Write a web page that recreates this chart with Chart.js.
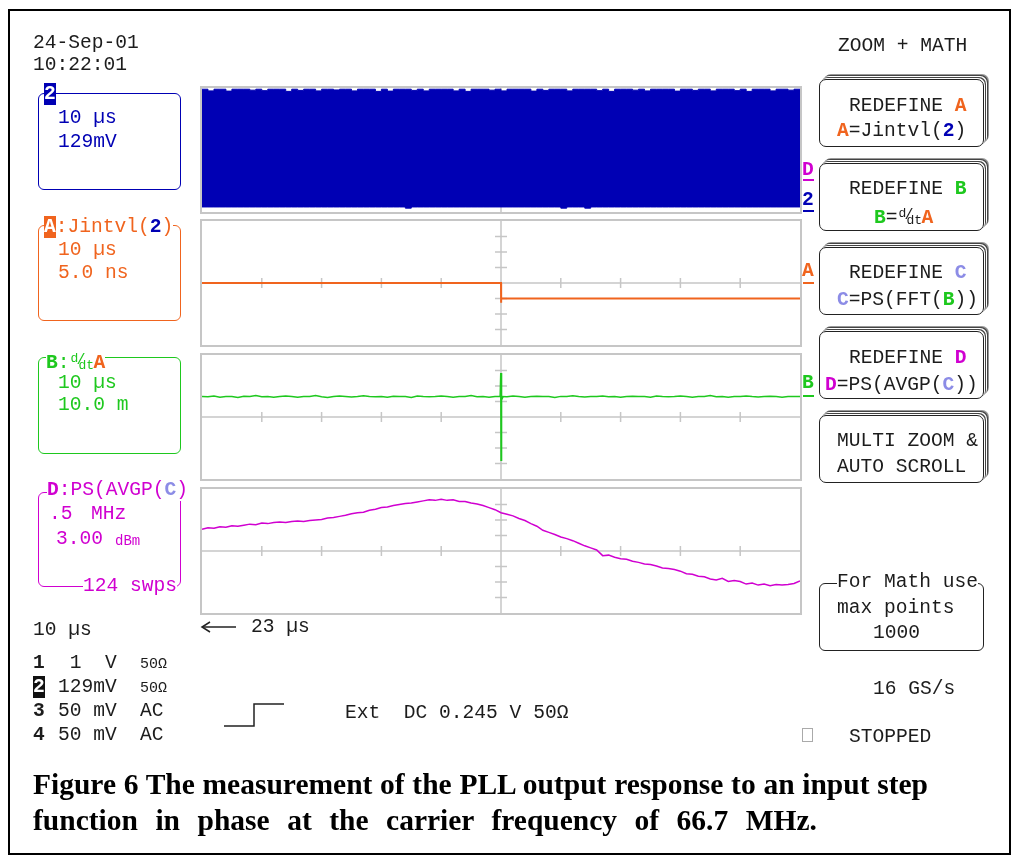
<!DOCTYPE html>
<html>
<head>
<meta charset="utf-8">
<title>PLL output response</title>
<script src="https://cdn.jsdelivr.net/npm/chart.js"></script>
<style>
  body { margin: 0; background: #fff; }
  #screen { position: relative; width: 1019px; height: 861px; overflow: hidden; background: #fff;
            font-family: "Liberation Mono", "DejaVu Sans Mono", monospace; }
  #frame { position: absolute; left: 8px; top: 9px; width: 999px; height: 842px; border: 2px solid #000; }
  .t { position: absolute; white-space: pre; line-height: 1; font-size: 19.6px; color: #1c1c1c; }
  .bg { background: #fff; }
  .inv { color: #fff; font-weight: bold; }
  .box { position: absolute; box-sizing: border-box; border: 1.5px solid; border-radius: 6px; }
  .btn { position: absolute; box-sizing: border-box;
         border: 1.5px solid #222; border-radius: 7px; background: #fff;
         box-shadow: 1px -1px 0 #fff, 2px -2px 0 #444, 3px -3px 0 #fff, 4px -4px 0 #444, 5px -5px 0 #999; }
  .bar { position: absolute; height: 2px; width: 11px; }
  .panel { position: absolute; left: 200px; }
  .frac { display: inline-block; position: relative; width: 24px; height: 16px; }
  .frac i { position: absolute; font-style: normal; font-size: 13px; line-height: 1; }
  .cap { position: absolute; left: 33px; font-family: "Liberation Serif", "Times New Roman", serif;
         font-weight: bold; font-size: 29.5px; line-height: 36px; color: #000; white-space: nowrap;
         text-align: justify; text-align-last: justify; }
</style>
</head>
<body>
<div id="screen">
  <div id="frame"></div>
  <svg width="1019" height="861" style="position:absolute;left:0;top:0">
    <line x1="203" y1="627" x2="236" y2="627" stroke="#222" stroke-width="1.5"/>
    <polyline points="210,622 202,627 210,632" fill="none" stroke="#222" stroke-width="1.5"/>
    <polyline points="224,726 254,726 254,704 284,704" fill="none" stroke="#222" stroke-width="1.5"/>
    <rect x="802.5" y="728.5" width="10" height="13" fill="none" stroke="#aaa"/>
  </svg>
  <div class="cap" style="top:766px;width:895px">Figure 6 The measurement of the PLL output response to an input step</div>
  <div class="cap" style="top:802px;width:784px">function in phase at the carrier frequency of 66.7 MHz.</div>
</div>
<script>
// ---- data ----
// time axis: 10 us/div, 10 divisions
var timeTicks = [10, 20, 30, 40, 60, 70, 80, 90];
var freqTicks = [0.5, 1.0, 1.5, 2.0, 3.0, 3.5, 4.0, 4.5];

// trace 2 (129 mV/div): envelope of the dense carrier, sampled every 1 us
var blueTopMv = [
  506, 492, 506, 506, 490, 506, 506, 506, 498, 506,
  494, 506, 506, 506, 488, 506, 496, 506, 506, 492,
  506, 506, 500, 506, 506, 492, 506, 506, 506, 488,
  506, 490, 506, 506, 506, 496, 506, 492, 506, 506,
  506, 506, 492, 506, 488, 506, 506, 506, 498, 506,
  492, 506, 506, 506, 506, 490, 506, 496, 506, 506,
  506, 492, 506, 506, 506, 506, 494, 506, 488, 506,
  506, 506, 498, 506, 492, 506, 506, 506, 506, 490,
  506, 506, 496, 506, 506, 492, 506, 506, 506, 494,
  506, 488, 506, 506, 506, 492, 506, 506, 498, 506,
  506
];
var blueBottomMv = [
  -474, -474, -474, -474, -474, -474, -474, -474, -474, -474,
  -474, -474, -474, -474, -474, -474, -474, -474, -474, -474,
  -474, -474, -474, -474, -474, -474, -474, -474, -474, -474,
  -474, -474, -474, -474, -484, -474, -474, -474, -474, -474,
  -474, -474, -474, -474, -474, -474, -474, -474, -474, -474,
  -474, -474, -474, -474, -474, -474, -474, -474, -474, -474,
  -484, -474, -474, -474, -484, -474, -474, -474, -474, -474,
  -474, -474, -474, -474, -474, -474, -474, -474, -474, -474,
  -474, -474, -474, -474, -474, -474, -474, -474, -474, -474,
  -474, -474, -474, -474, -474, -474, -474, -474, -474, -474,
  -474
];

// A = Jintvl(2), 5.0 ns/div
var orangeTime = [0, 50, 50, 50.05, 100];
var orangeNs = [0, 0, -6.4, -5, -5];

// B = d/dt A, 10.0 m/div, sampled every 1 us
var greenM = [
  13.2, 13.0, 13.6, 12.8, 13.2, 13.2, 12.6, 13.4, 13.2, 13.8,
  13.0, 13.2, 12.8, 13.2, 13.6, 13.2, 12.7, 13.2, 13.2, 13.9,
  13.1, 12.6, 13.2, 13.5, 13.2, 12.9, 13.2, 13.7, 13.2, 13.0,
  13.2, 12.8, 13.4, 13.2, 13.2, 12.6, 13.6, 13.2, 13.0, 13.2,
  13.5, 13.2, 12.8, 13.2, 13.2, 13.8, 13.1, 13.2, 12.7, 13.2,
  13.2, 13.0, 13.6, 13.2, 12.8, 13.2, 13.4, 13.2, 13.2, 12.6,
  13.3, 13.2, 13.7, 13.2, 12.9, 13.2, 13.2, 13.6, 13.0, 13.2,
  12.7, 13.2, 13.4, 13.2, 13.2, 12.8, 13.6, 13.2, 13.0, 13.2,
  13.5, 13.2, 12.7, 13.2, 13.2, 13.8, 13.0, 13.2, 12.8, 13.2,
  13.2, 13.6, 13.2, 12.9, 13.2, 13.4, 13.2, 12.8, 13.2, 13.2,
  13.2
];
var greenSpikeTime = [49.9, 50, 50, 50, 50.15, 50.3];
var greenSpikeM = [13.2, 28.4, -28.4, 8, 11, 13.2];

// D = PS(AVGP(C)), 3.00 dBm/div, 0.5 MHz/div, sampled every 0.05 MHz
var magStepMHz = 0.05;
var magDbm = [
  4.2, 4.5, 4.4, 4.7, 4.6, 4.9, 4.8, 5.0, 5.2, 5.1,
  5.4, 5.3, 5.5, 5.6, 5.5, 5.7, 5.8, 5.7, 5.9, 6.0,
  6.1, 6.4, 6.5, 6.7, 6.9, 7.2, 7.4, 7.5, 7.9, 8.1,
  8.4, 8.5, 8.8, 9.0, 9.2, 9.3, 9.5, 9.7, 9.9, 9.8,
  10.0, 9.8, 9.9, 9.6, 9.6, 9.3, 9.1, 8.8, 8.4, 8.0,
  7.4, 7.1, 6.8, 6.3, 5.9, 5.3, 4.8, 4.0, 3.6, 3.2,
  2.7, 2.4, 2.0, 1.5, 1.0, 0.6, 0.2, -0.9, -0.8, -1.2,
  -1.5, -1.6, -2.0, -2.2, -2.5, -2.6, -2.9, -3.3, -3.4, -3.6,
  -3.9, -4.4, -4.5, -4.9, -5.0, -5.4, -5.6, -5.3, -5.9, -5.7,
  -5.9, -6.4, -6.2, -6.6, -6.4, -6.7, -6.5, -6.6, -6.5, -6.3,
  -5.8
];

var BLUE = '#0000b4';
var ORANGE = '#f0641e';
var GREEN = '#1ec81e';
var MAGENTA = '#d000d0';
var PURPLE = '#8c8ce6';

var screenEl = document.getElementById('screen');

var put = function(x, base, html, color, size, cls) {
    size = size || 19.6;
    var d = document.createElement('div');
    d.className = 't' + (cls ? ' ' + cls : '');
    d.style.left = x + 'px';
    d.style.top = (base - size * 0.767) + 'px';
    d.style.fontSize = size + 'px';
    if (color) d.style.color = color;
    d.innerHTML = html;
    screenEl.appendChild(d);
    return d;
};
var box = function(x, y, w, h, color, cls) {
    var d = document.createElement('div');
    d.className = cls || 'box';
    d.style.left = x + 'px';
    d.style.top = y + 'px';
    d.style.width = w + 'px';
    d.style.height = h + 'px';
    if (color) d.style.borderColor = color;
    screenEl.appendChild(d);
    return d;
};
var bar = function(x, y, color) {
    var d = document.createElement('div');
    d.className = 'bar';
    d.style.left = x + 'px';
    d.style.top = y + 'px';
    d.style.background = color;
    screenEl.appendChild(d);
};
var b = function(txt, color) {
    return '<b style="color:' + color + '">' + txt + '</b>';
};
var frac = '<span class="frac"><i style="left:1px;top:0">d</i><i style="left:7px;top:1px;font-size:15px">/</i><i style="left:9px;top:7px">dt</i></span>';

// ---- left column ----
put(33, 49, '24-Sep-01');
put(33, 71, '10:22:01');

box(38, 93, 143, 97, BLUE);
put(44, 100, '<span class="inv" style="background:' + BLUE + '">2</span>', BLUE);
put(58, 124, '10 µs', BLUE);
put(58, 148, '129mV', BLUE);

box(38, 225, 143, 96, ORANGE);
put(44, 233, '<span class="inv" style="background:' + ORANGE + '">A</span>:Jintvl(' + b('2', BLUE) + ')', ORANGE, 0, 'bg');
put(58, 256, '10 µs', ORANGE);
put(58, 279, '5.0 ns', ORANGE);

box(38, 357, 143, 97, GREEN);
put(46, 367, b('B', GREEN) + ':' + frac + b('A', ORANGE), GREEN, 0, 'bg');
put(58, 389, '10 µs', GREEN);
put(58, 411, '10.0 m', GREEN);

box(38, 492, 143, 95, MAGENTA);
put(47, 496, b('D', MAGENTA) + ':PS(AVGP(' + b('C', PURPLE) + ')', MAGENTA, 0, 'bg');
put(49, 520, '.5', MAGENTA);
put(91, 520, 'MHz', MAGENTA);
put(56, 545, '3.00', MAGENTA);
put(115, 545, 'dBm', MAGENTA, 14);
put(83, 592, '124 swps', MAGENTA, 0, 'bg');

put(33, 636, '10 µs');
put(33, 669, '<b>1</b>');
put(58, 669, ' 1  V');
put(140, 669, '50Ω', null, 15);
put(33, 693, '<span class="inv" style="background:#111">2</span>');
put(58, 693, '129mV');
put(140, 693, '50Ω', null, 15);
put(33, 717, '<b>3</b>');
put(58, 717, '50 mV');
put(140, 717, 'AC');
put(33, 741, '<b>4</b>');
put(58, 741, '50 mV');
put(140, 741, 'AC');

put(251, 633, '23 µs');
put(345, 719, 'Ext  DC 0.245 V 50Ω');

// ---- trace markers at the right edge of the grid ----
put(802, 176, b('D', MAGENTA));
bar(803, 179, MAGENTA);
put(802, 206, b('2', BLUE));
bar(803, 210, BLUE);
put(802, 277, b('A', ORANGE));
bar(803, 282, ORANGE);
put(802, 389, b('B', GREEN));
bar(803, 395, GREEN);

// ---- right menu ----
put(838, 52, 'ZOOM + MATH');
var btnTops = [79, 163, 247, 331, 415];
btnTops.forEach(function(top) { box(819, top, 165, 68, null, 'btn'); });
put(849, 112, 'REDEFINE ' + b('A', ORANGE));
put(837, 137, b('A', ORANGE) + '=Jintvl(' + b('2', BLUE) + ')');
put(849, 195, 'REDEFINE ' + b('B', GREEN));
put(874, 222, b('B', GREEN) + '=' + frac + b('A', ORANGE));
put(849, 279, 'REDEFINE ' + b('C', PURPLE));
put(837, 306, b('C', PURPLE) + '=PS(FFT(' + b('B', GREEN) + '))');
put(849, 364, 'REDEFINE ' + b('D', MAGENTA));
put(825, 391, b('D', MAGENTA) + '=PS(AVGP(' + b('C', PURPLE) + '))');
put(837, 447, 'MULTI ZOOM &');
put(837, 473, 'AUTO SCROLL');

box(819, 583, 165, 68, '#222');
put(837, 588, 'For Math use', null, 0, 'bg');
put(837, 614, 'max points');
put(873, 639, '1000');
put(873, 695, '16 GS/s');
put(849, 743, 'STOPPED');

// ---- the four zoom/math traces ----
var scopeGrid = {
    id: 'scopeGrid',
    beforeDatasetsDraw: function(chart, args, opts) {
        var ctx = chart.ctx;
        var area = chart.chartArea;
        var xs = chart.scales.x;
        var ys = chart.scales.y;
        var cx = xs.getPixelForValue(opts.xMid);
        var cy = ys.getPixelForValue(opts.yMid);
        ctx.save();
        ctx.strokeStyle = '#c6c6c6';
        ctx.lineWidth = 2;
        ctx.strokeRect(area.left - 1, area.top - 1, area.right - area.left + 2, area.bottom - area.top + 2);
        ctx.lineWidth = 1.5;
        ctx.beginPath();
        ctx.moveTo(area.left, cy);
        ctx.lineTo(area.right, cy);
        ctx.moveTo(cx, area.top);
        ctx.lineTo(cx, area.bottom);
        opts.xTicks.forEach(function(v) {
            var p = xs.getPixelForValue(v);
            ctx.moveTo(p, cy - 5);
            ctx.lineTo(p, cy + 5);
        });
        opts.yTicks.forEach(function(v) {
            var p = ys.getPixelForValue(v);
            ctx.moveTo(cx - 6, p);
            ctx.lineTo(cx + 6, p);
        });
        ctx.stroke();
        ctx.restore();
    }
};

var toPoints = function(xs, ys) {
    return ys.map(function(y, i) { return {x: xs[i], y: y}; });
};
var sampled = function(ys, step) {
    return ys.map(function(y, i) { return {x: i * step, y: y}; });
};

var makePanel = function(top, datasets, xRange, yRange, xTicks, yTicks) {
    var holder = document.createElement('div');
    holder.className = 'panel';
    holder.style.top = top + 'px';
    var canvas = document.createElement('canvas');
    canvas.width = 602;
    canvas.height = 128;
    canvas.style.width = '602px';
    canvas.style.height = '128px';
    holder.appendChild(canvas);
    screenEl.insertBefore(holder, screenEl.firstChild.nextSibling);
    return new Chart(canvas, {
        type: 'line',
        data: {datasets: datasets},
        plugins: [scopeGrid],
        options: {
            responsive: false,
            animation: false,
            events: [],
            devicePixelRatio: 1,
            layout: {padding: 2},
            elements: {point: {radius: 0}, line: {tension: 0}},
            plugins: {
                legend: {display: false},
                tooltip: {enabled: false},
                scopeGrid: {
                    xMid: (xRange[0] + xRange[1]) / 2,
                    yMid: (yRange[0] + yRange[1]) / 2,
                    xTicks: xTicks,
                    yTicks: yTicks
                }
            },
            scales: {
                x: {type: 'linear', display: false, min: xRange[0], max: xRange[1]},
                y: {type: 'linear', display: false, min: yRange[0], max: yRange[1]}
            }
        }
    });
};

var divs = function(perDiv) {
    return [-3, -2, -1, 1, 2, 3].map(function(k) { return k * perDiv; });
};

makePanel(86, [
    {data: sampled(blueTopMv, 1), borderColor: BLUE, backgroundColor: BLUE, borderWidth: 1, stepped: true, fill: '+1'},
    {data: sampled(blueBottomMv, 1), borderColor: BLUE, borderWidth: 1, stepped: true, fill: false}
], [0, 100], [-516, 516], timeTicks, divs(129));

makePanel(219, [
    {data: toPoints(orangeTime, orangeNs), borderColor: ORANGE, borderWidth: 2, fill: false}
], [0, 100], [-20, 20], timeTicks, divs(5));

makePanel(353, [
    {data: sampled(greenM, 1), borderColor: GREEN, borderWidth: 1.5, fill: false},
    {data: toPoints(greenSpikeTime, greenSpikeM), borderColor: GREEN, borderWidth: 2, fill: false}
], [0, 100], [-40, 40], timeTicks, divs(10));

makePanel(487, [
    {data: sampled(magDbm, magStepMHz), borderColor: MAGENTA, borderWidth: 1.5, fill: false}
], [0, 5], [-12, 12], freqTicks, divs(3));
</script>
</body>
</html>
